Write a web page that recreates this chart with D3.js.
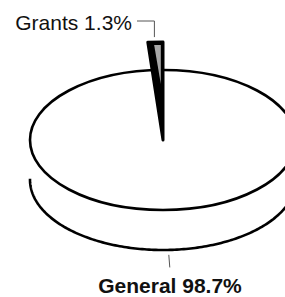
<!DOCTYPE html>
<html>
<head>
<meta charset="utf-8">
<script src="https://cdn.jsdelivr.net/npm/d3@7"></script>
<style>
  body { margin: 0; background: #fff; }
  svg { display: block; }
</style>
</head>
<body>
<div id="chart"></div>
<script>
// Budget split, drawn as a flat outline 3D pie

const categories = ["General", "Grants"];
const values = [98.7, 1.3];

const width = 285,
    height = 297,
    cx = 163, cy = 140,   // pie centre
    rx = 133, ry = 70,    // top ellipse radii
    depth = 40;           // side thickness

const svg = d3.select("#chart")
    .append("svg")
    .attr("width", width)
    .attr("height", height)
    .attr("viewBox", [0, 0, width, height]);

const pie = d3.pie().sort(null).value(d => d)(values);

// project a pie angle (clockwise from 12 o'clock) and radius factor onto the ellipse
const pt = (a, r, dy = 0) => [cx + rx * r * Math.sin(a), cy + dy - ry * r * Math.cos(a)];

const line = d3.line();

// top face outline
svg.append("ellipse")
    .attr("cx", cx).attr("cy", cy)
    .attr("rx", rx).attr("ry", ry)
    .attr("fill", "none")
    .attr("stroke", "#000")
    .attr("stroke-width", 2.6);

// lower rim, front half only
const rim = d3.range(-88, 92, 1).map(t => {
    const a = (180 + t) * Math.PI / 180;
    return pt(a, 1, depth);
});
svg.append("path")
    .attr("d", line(rim))
    .attr("fill", "none")
    .attr("stroke", "#000")
    .attr("stroke-width", 2.6);

// grants wedge, raised above the top face
const g = pie[1];
const span = g.endAngle - g.startAngle;
const lift = 1.4;

svg.append("path")
    .attr("d", line([pt(0, 0), pt(g.startAngle, lift), pt(g.endAngle, lift)]) + "Z")
    .attr("fill", "#000")
    .attr("stroke", "#000")
    .attr("stroke-width", 3)
    .attr("stroke-linejoin", "round");

svg.append("path")
    .attr("d", line([
        pt(g.startAngle + span * 0.4, lift * 0.97),
        pt(g.endAngle - span * 0.15, lift * 0.97),
        pt(g.endAngle - span * 0.25, 0.8)
    ]) + "Z")
    .attr("fill", "#a8a8a8");

// labels and leader lines
const gMid = (g.startAngle + g.endAngle) / 2;
const gTop = pt(gMid, lift);
svg.append("path")
    .attr("d", line([[137, 21], [gTop[0] - 1, 21], [gTop[0] - 1, gTop[1] - 5]]))
    .attr("fill", "none")
    .attr("stroke", "#555")
    .attr("stroke-width", 1);

svg.append("text")
    .attr("x", 132)
    .attr("y", 30)
    .attr("text-anchor", "end")
    .attr("font-family", "Liberation Sans, Arial, sans-serif")
    .attr("font-size", 21)
    .attr("fill", "#111")
    .text(`${categories[1]} ${values[1]}%`);

const gen = pie[0];
const genMid = (gen.startAngle + gen.endAngle) / 2;
svg.append("path")
    .attr("d", line([pt(genMid, 1.07, depth), pt(genMid, 1.25, depth)]))
    .attr("stroke", "#555")
    .attr("stroke-width", 1);

svg.append("text")
    .attr("x", 170)
    .attr("y", 293)
    .attr("text-anchor", "middle")
    .attr("font-family", "Liberation Sans, Arial, sans-serif")
    .attr("font-size", 21)
    .attr("font-weight", "bold")
    .attr("fill", "#111")
    .text(`${categories[0]} ${values[0]}%`);
</script>
</body>
</html>
